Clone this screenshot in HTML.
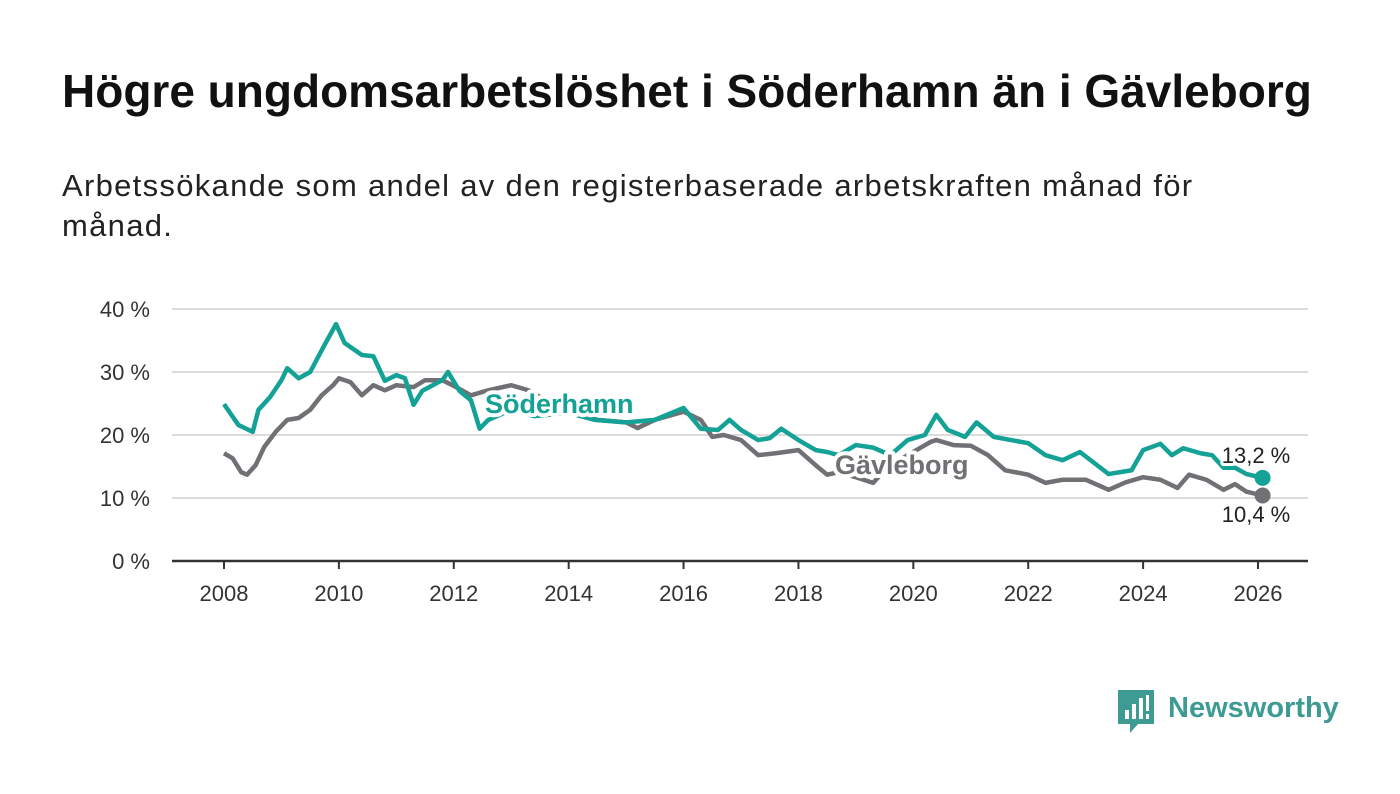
<!DOCTYPE html>
<html><head><meta charset="utf-8"><style>
body{margin:0;width:1400px;height:794px;background:#fff;font-family:"Liberation Sans","DejaVu Sans",sans-serif;overflow:hidden;position:relative}
h1{position:absolute;left:62px;top:64px;margin:0;font-size:46px;font-weight:bold;color:#111;white-space:nowrap}
.sub{position:absolute;left:62px;top:166px;font-size:31px;letter-spacing:1.3px;line-height:40px;color:#222;white-space:nowrap}
</style></head><body>
<h1>Högre ungdomsarbetslöshet i Söderhamn än i Gävleborg</h1>
<div class="sub">Arbetssökande som andel av den registerbaserade arbetskraften månad för<br>månad.</div>
<svg id="chart" width="1400" height="794" style="position:absolute;left:0;top:0"></svg>
<div style="position:absolute;left:1118px;top:690px;display:flex;align-items:center">
<svg width="36" height="44" viewBox="0 0 36 44"><path d="M0 0H36V34H20L12 43V34H0Z" fill="#3d9b94"/><rect x="7" y="20" width="4" height="9" fill="#fff"/><rect x="14" y="14" width="4" height="15" fill="#fff"/><rect x="21" y="8" width="4" height="21" fill="#fff"/><rect x="28" y="5" width="3" height="16" fill="#fff"/><rect x="28" y="24" width="3" height="5" fill="#fff"/></svg>
<span style="margin-left:14px;font-size:29px;font-weight:bold;color:#3d9b94;margin-top:-8px">Newsworthy</span></div>
<script>
const yTicks=[0,10,20,30,40];
const xTicks=[2008,2010,2012,2014,2016,2018,2020,2022,2024,2026];
const sodT=[2008,2008.25,2008.5,2008.6,2008.8,2009,2009.1,2009.3,2009.5,2009.75,2009.95,2010.1,2010.4,2010.6,2010.8,2011,2011.15,2011.3,2011.45,2011.8,2011.9,2012.1,2012.3,2012.45,2012.6,2013,2013.4,2014,2014.45,2015,2015.5,2016,2016.3,2016.6,2016.8,2017,2017.3,2017.5,2017.7,2018,2018.3,2018.5,2018.7,2019,2019.3,2019.6,2019.9,2020.2,2020.4,2020.6,2020.9,2021.1,2021.4,2021.7,2022,2022.3,2022.6,2022.9,2023.2,2023.4,2023.8,2024,2024.3,2024.5,2024.7,2025,2025.2,2025.4,2025.6,2025.8,2026.08];
const sodV=[24.9,21.6,20.5,24,26,28.7,30.6,29,30,34.3,37.6,34.6,32.7,32.5,28.6,29.5,29,24.8,27,28.7,30,27,25.5,21,22.4,24,23,23.5,22.4,22,22.4,24.3,21,20.8,22.4,20.8,19.2,19.5,21,19.2,17.6,17.3,16.8,18.4,18,16.8,19.2,20,23.2,20.8,19.7,22,19.7,19.2,18.7,16.8,16,17.3,15.2,13.8,14.4,17.6,18.6,16.8,17.9,17.1,16.8,14.8,14.8,13.8,13.2];
const gavT=[2008,2008.15,2008.3,2008.4,2008.55,2008.7,2008.9,2009.1,2009.3,2009.5,2009.7,2009.9,2010,2010.2,2010.4,2010.6,2010.8,2011,2011.3,2011.5,2011.8,2012,2012.3,2012.6,2013,2013.3,2013.6,2014,2014.5,2015,2015.2,2015.5,2016,2016.3,2016.5,2016.7,2017,2017.3,2017.6,2018,2018.3,2018.5,2018.7,2019,2019.3,2019.5,2019.9,2020.3,2020.4,2020.7,2021,2021.3,2021.6,2022,2022.3,2022.6,2023,2023.4,2023.7,2024,2024.3,2024.6,2024.8,2025.1,2025.4,2025.6,2025.8,2026.08];
const gavV=[17.1,16.3,14.1,13.7,15.2,18.1,20.5,22.4,22.7,24,26.3,27.9,29,28.4,26.3,27.9,27.1,27.9,27.6,28.7,28.7,27.8,26.3,27.1,27.9,27.1,25.5,24,22.4,22,21.1,22.4,23.7,22.4,19.7,20,19.2,16.8,17.1,17.6,15.2,13.7,14.1,13.3,12.4,14.4,16.8,18.9,19.2,18.4,18.3,16.8,14.4,13.7,12.4,12.9,12.9,11.3,12.5,13.3,12.9,11.6,13.7,12.9,11.3,12.2,11,10.4];
const svg=document.getElementById('chart');const NS='http://www.w3.org/2000/svg';
const X=t=>224+(t-2008)*(1258-224)/18, Y=v=>561-v*6.3;
function mk(tag,a,parent){const e=document.createElementNS(NS,tag);for(const k in a)e.setAttribute(k,a[k]);(parent||svg).appendChild(e);return e;}
yTicks.forEach(v=>{
 const l=mk('line',{x1:172,x2:1308,y1:Y(v),y2:Y(v),stroke:v?'#dcdcdc':'#333','stroke-width':v?2:2.5});
 
 
 const t=mk('text',{x:150,y:Y(v)+8,'text-anchor':'end','font-size':22,fill:'#333'});t.textContent=v+' %';
 
 
});
xTicks.forEach(y=>{
 const l=mk('line',{x1:X(y),x2:X(y),y1:561,y2:569,stroke:'#333','stroke-width':2});
 
 
 const t=mk('text',{x:X(y),y:601,'text-anchor':'middle','font-size':22,fill:'#333'});t.textContent=y;
 
 
});
function line(T,V,c,name){
 const p=mk('polyline',{points:T.map((t,i)=>X(t)+','+Y(V[i])).join(' '),fill:'none',stroke:c,'stroke-width':4.5,'stroke-linejoin':'round'});
 
 
 const d=mk('circle',{cx:X(T[T.length-1]),cy:Y(V[V.length-1]),r:8,fill:c});
 
 
}
line(gavT,gavV,'#717074','gavleborg-line');
line(sodT,sodV,'#14a196','soderhamn-line');
function lab(txt,x,y,c,name,bold,anchor){
 const t=mk('text',{x:x,y:y,'font-size':bold?27:22,'font-weight':bold?'bold':'normal',fill:c,stroke:'#fff','stroke-width':bold?8:6,'paint-order':'stroke','stroke-linejoin':'round','text-anchor':anchor||'start'});t.textContent=txt;
 
 
}
lab('Söderhamn',485,413,'#14a196','soderhamn-label',true);
lab('Gävleborg',835,474,'#717074','gavleborg-label',true);
lab('13,2 %',1256,463,'#222','soderhamn-end-value',false,'middle');
lab('10,4 %',1256,522,'#222','gavleborg-end-value',false,'middle');
</script>
</body></html>
